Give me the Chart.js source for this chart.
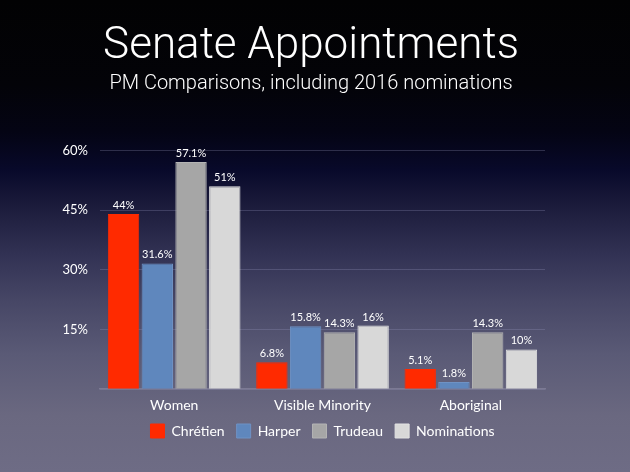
<!DOCTYPE html>
<html>
<head>
<meta charset="utf-8">
<script src="https://cdn.jsdelivr.net/npm/chart.js@4"></script>
<style>
html,body{margin:0;padding:0;width:630px;height:472px;overflow:hidden;}
body{background:linear-gradient(to bottom,#020203 0%,#030308 18%,#040414 28%,#08092a 36%,#1a1a3a 43%,#323254 54%,#474766 64%,#5a5a76 75%,#6a6880 88%,#6e6c85 100%);}
#wrap{position:absolute;left:0;top:0;width:630px;height:472px;}
</style>
</head>
<body>
<div id="wrap"><canvas id="c" width="630" height="472"></canvas></div>
<script>
const categories = ["Women", "Visible Minority", "Aboriginal"];
const seriesNames = ["Chrétien", "Harper", "Trudeau", "Nominations"];
const chretien = [44, 6.8, 5.1];
const harper = [31.6, 15.8, 1.8];
const trudeau = [57.1, 14.3, 14.3];
const nominations = [51, 16, 10];
const valueLabels = [
  ["44%", "6.8%", "5.1%"],
  ["31.6%", "15.8%", "1.8%"],
  ["57.1%", "14.3%", "14.3%"],
  ["51%", "16%", "10%"]
];
const yTicks = [0, 15, 30, 45, 60];

const colors = ["#ff2a00", "#5f87bd", "#a6a6a6", "#d8d8d8"];
const borders = ["#ff2a00", "#6f92c4", "#b4b4b4", "#e2e2e2"];
const FONT = "Lato, 'Open Sans', sans-serif";

const labelPlugin = {
  id: "valueLabels",
  afterDatasetsDraw(chart) {
    const ctx = chart.ctx;
    ctx.save();
    ctx.fillStyle = "#ffffff";
    ctx.font = "11px " + FONT;
    ctx.textAlign = "center";
    ctx.textBaseline = "bottom";
    chart.data.datasets.forEach((ds, i) => {
      const meta = chart.getDatasetMeta(i);
      meta.data.forEach((bar, j) => {
        ctx.fillText(valueLabels[i][j], bar.x, bar.y - 3);
      });
    });
    ctx.restore();
  }
};

// pull the legend a little closer to the category labels
const legendShift = {
  id: "legendShift",
  afterLayout(chart) {
    if (chart.legend) {
      chart.legend.top -= 10;
      chart.legend.bottom -= 10;
    }
  }
};

const data = {
  labels: categories,
  datasets: [chretien, harper, trudeau, nominations].map((vals, i) => ({
    label: seriesNames[i],
    data: vals,
    yAxisID: "y",
    backgroundColor: colors[i],
    borderColor: borders[i],
    borderWidth: 1,
    barPercentage: 0.93,
    categoryPercentage: 0.91
  }))
};

new Chart(document.getElementById("c"), {
  type: "bar",
  data: data,
  plugins: [labelPlugin, legendShift],
  options: {
    responsive: false,
    animation: false,
    devicePixelRatio: 1,
    layout: { padding: { left: 0, right: 8, top: 0, bottom: 14 } },
    plugins: {
      title: {
        display: true,
        text: "Senate Appointments",
        color: "#ffffff",
        font: { family: "Roboto, 'Liberation Sans', sans-serif", size: 44, weight: 300, lineHeight: 1.1 },
        padding: { top: 23, bottom: 2 }
      },
      subtitle: {
        display: true,
        text: "PM Comparisons, including 2016 nominations",
        color: "#ffffff",
        font: { family: "Roboto, 'Liberation Sans', sans-serif", size: 20, weight: 300, lineHeight: 1.1 },
        padding: { top: 0, bottom: 55 }
      },
      legend: {
        position: "bottom",
        fullSize: false,
        labels: {
          color: "#ffffff",
          font: { family: FONT, size: 14 },
          boxWidth: 14,
          boxHeight: 14,
          padding: 12,
          useBorderRadius: false
        }
      },
      tooltip: { enabled: false }
    },
    scales: {
      x: {
        grid: { display: false, drawTicks: false },
        border: { color: "#7c7a94", width: 1.5 },
        ticks: { color: "#ffffff", font: { family: FONT, size: 14 }, padding: 8 }
      },
      y: {
        min: 0,
        max: 60,
        afterBuildTicks(axis) { axis.ticks = yTicks.map(v => ({ value: v })); },
        afterFit(axis) { axis.width = 100; },
        grid: { color: "rgba(150,150,190,0.28)", drawTicks: false, lineWidth: 1 },
        border: { display: false },
        ticks: {
          color: "#ffffff",
          font: { family: FONT, size: 13 },
          padding: 12,
          callback: v => v === 0 ? "" : v + "%"
        }
      },
      yRight: {
        position: "right",
        grid: { display: false, drawTicks: false },
        border: { display: false },
        ticks: { display: false },
        afterFit(axis) { axis.width = 77; }
      }
    }
  }
});
</script>
</body>
</html>
